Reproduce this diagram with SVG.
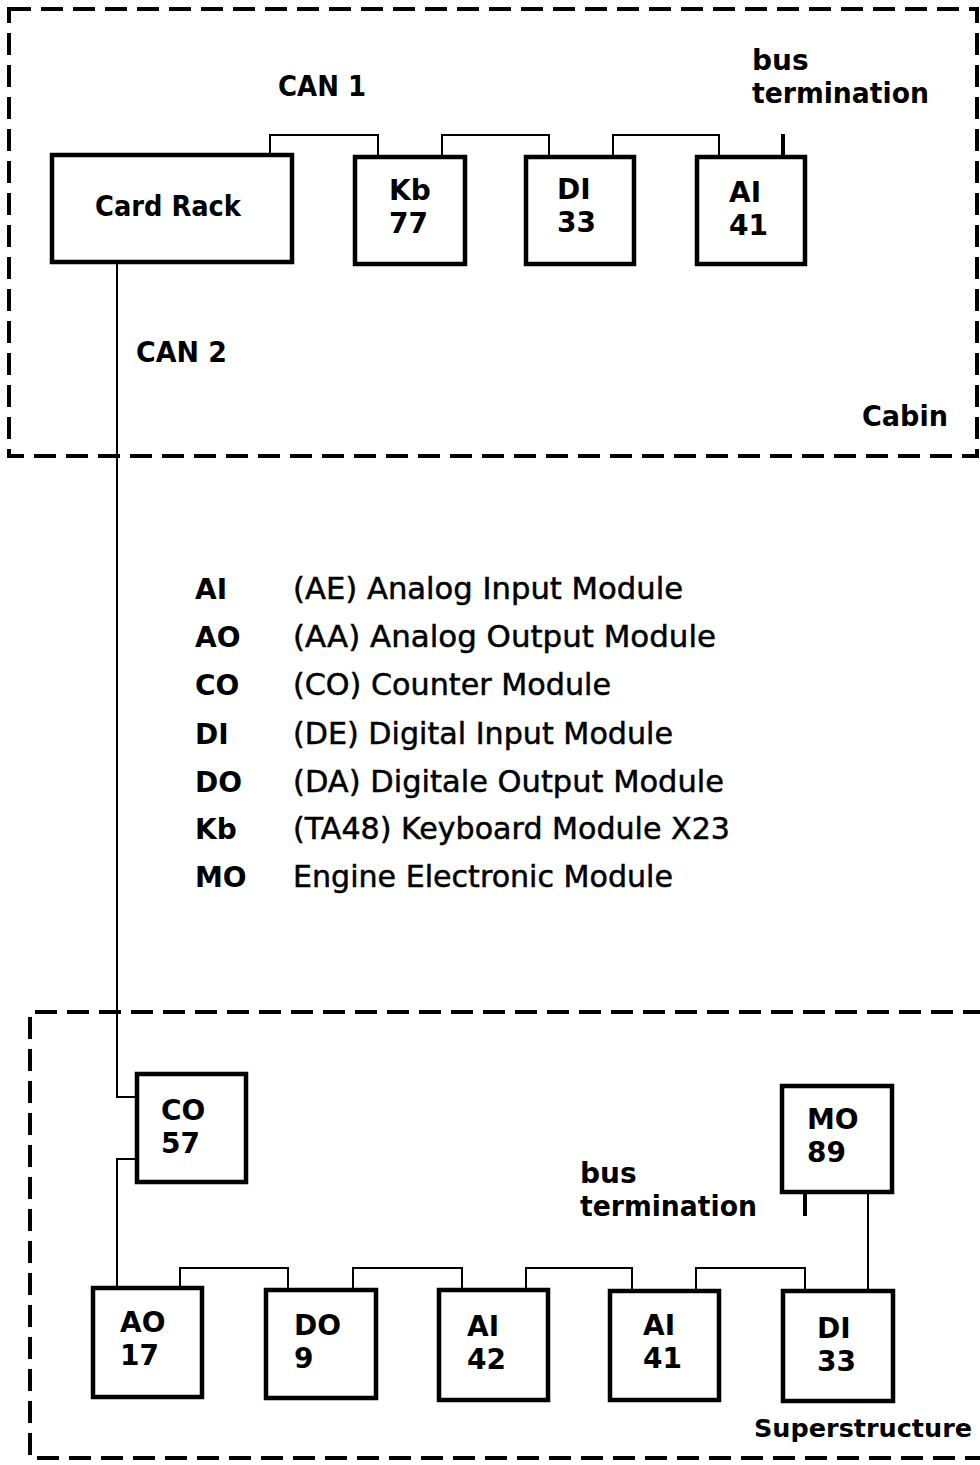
<svg xmlns="http://www.w3.org/2000/svg" width="980" height="1465" viewBox="0 0 980 1465">
<style>
.bg{fill:#fff}
.zone{fill:none;stroke:#000;stroke-width:4;stroke-dasharray:22 10}
.box{fill:#fff;stroke:#000;stroke-width:4.5}
.wire{fill:none;stroke:#000;stroke-width:2}
.term{fill:none;stroke:#000;stroke-width:4}
.t{font-family:"DejaVu Sans","Open Sans",sans-serif;font-weight:700;font-size:28px;fill:#000}
.a{font-family:"DejaVu Sans","Open Sans",sans-serif;font-weight:700;font-size:28px;fill:#000}
.l{font-family:"DejaVu Sans","Open Sans",sans-serif;font-weight:400;font-size:30px;fill:#000;stroke:#000;stroke-width:0.5}
</style>
<rect class="bg" x="0" y="0" width="980" height="1465"/>
<g id="zones">
<rect class="zone" x="9" y="9" width="968" height="447"/>
<path class="zone" d="M985 1012 H30 V1458 H985"/>
</g>
<g id="connectors">
<path class="wire" d="M270 155 V135 H378 V155"/>
<path class="wire" d="M442 155 V135 H549 V155"/>
<path class="wire" d="M613 155 V135 H719 V155"/>
<path class="term" d="M783 155 V134"/>
<path class="wire" d="M117 262 V1097 H137"/>
<path class="wire" d="M137 1159 H117 V1287"/>
<path class="wire" d="M180 1287 V1268 H288 V1290"/>
<path class="wire" d="M353 1290 V1268 H462 V1290"/>
<path class="wire" d="M526 1290 V1268 H632 V1290"/>
<path class="wire" d="M696 1290 V1268 H805 V1290"/>
<path class="wire" d="M868 1192 V1290"/>
<path class="term" d="M805 1192 V1216"/>
</g>
<g id="card-rack"><rect class="box" x="52" y="155" width="240" height="107"/><text class="t" x="95" y="216" textLength="146" lengthAdjust="spacingAndGlyphs">Card Rack</text></g>
<g id="kb77"><rect class="box" x="355" y="157" width="110" height="107"/><text class="t" x="389" y="200">Kb<tspan x="389" dy="33">77</tspan></text></g>
<g id="di33-top"><rect class="box" x="526" y="157" width="108" height="107"/><text class="t" x="557" y="199">DI<tspan x="557" dy="33">33</tspan></text></g>
<g id="ai41-top"><rect class="box" x="697" y="157" width="108" height="107"/><text class="t" x="729" y="202">AI<tspan x="729" dy="33">41</tspan></text></g>
<g id="co57"><rect class="box" x="137" y="1074" width="109" height="108"/><text class="t" x="161" y="1120">CO<tspan x="161" dy="33">57</tspan></text></g>
<g id="mo89"><rect class="box" x="782" y="1086" width="110" height="106"/><text class="t" x="807" y="1129">MO<tspan x="807" dy="33">89</tspan></text></g>
<g id="ao17"><rect class="box" x="93" y="1288" width="109" height="109"/><text class="t" x="120" y="1332">AO<tspan x="120" dy="33">17</tspan></text></g>
<g id="do9"><rect class="box" x="266" y="1290" width="110" height="108"/><text class="t" x="294" y="1335">DO<tspan x="294" dy="33">9</tspan></text></g>
<g id="ai42"><rect class="box" x="439" y="1290" width="109" height="110"/><text class="t" x="467" y="1336">AI<tspan x="467" dy="33">42</tspan></text></g>
<g id="ai41-bottom"><rect class="box" x="610" y="1291" width="109" height="109"/><text class="t" x="643" y="1335">AI<tspan x="643" dy="33">41</tspan></text></g>
<g id="di33-bottom"><rect class="box" x="783" y="1291" width="110" height="110"/><text class="t" x="817" y="1338">DI<tspan x="817" dy="33">33</tspan></text></g>
<g id="labels">
<text class="t" x="278" y="96" textLength="88" lengthAdjust="spacingAndGlyphs">CAN 1</text>
<text class="t" x="752" y="70">bus</text>
<text class="t" x="752" y="103" textLength="177" lengthAdjust="spacingAndGlyphs">termination</text>
<text class="t" x="136" y="362" textLength="91" lengthAdjust="spacingAndGlyphs">CAN 2</text>
<text class="t" x="862" y="426" textLength="86" lengthAdjust="spacingAndGlyphs">Cabin</text>
<text class="t" x="580" y="1183">bus</text>
<text class="t" x="580" y="1216" textLength="177" lengthAdjust="spacingAndGlyphs">termination</text>
<text class="t" x="754" y="1437" style="font-size:25.5px">Superstructure</text>
</g>
<g id="legend">
<text class="a" x="195" y="599">AI</text><text class="l" x="293" y="599" textLength="390" lengthAdjust="spacingAndGlyphs">(AE) Analog Input Module</text>
<text class="a" x="195" y="647">AO</text><text class="l" x="293" y="647" textLength="423" lengthAdjust="spacingAndGlyphs">(AA) Analog Output Module</text>
<text class="a" x="195" y="695">CO</text><text class="l" x="293" y="695" textLength="318" lengthAdjust="spacingAndGlyphs">(CO) Counter Module</text>
<text class="a" x="195" y="744">DI</text><text class="l" x="293" y="744" textLength="380" lengthAdjust="spacingAndGlyphs">(DE) Digital Input Module</text>
<text class="a" x="195" y="792">DO</text><text class="l" x="293" y="792" textLength="431" lengthAdjust="spacingAndGlyphs">(DA) Digitale Output Module</text>
<text class="a" x="195" y="839">Kb</text><text class="l" x="293" y="839" textLength="437" lengthAdjust="spacingAndGlyphs">(TA48) Keyboard Module X23</text>
<text class="a" x="195" y="887">MO</text><text class="l" x="293" y="887" textLength="380" lengthAdjust="spacingAndGlyphs">Engine Electronic Module</text>
</g>
</svg>
